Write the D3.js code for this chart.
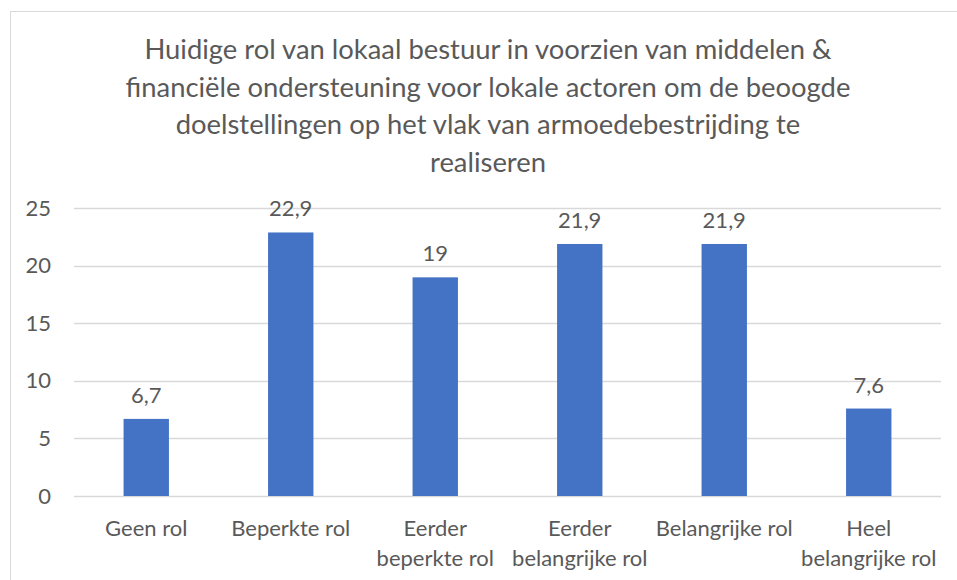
<!DOCTYPE html>
<html lang="en">
<head>
<meta charset="utf-8">
<title>Rol lokaal bestuur</title>
<script src="https://d3js.org/d3.v7.min.js"></script>
<style>
  body { margin: 0; background: #fff; }
  text { font-family: Lato, "Noto Sans", sans-serif; fill: #595959; }
</style>
</head>
<body>
<div id="chart"></div>
<script>

// data
var categories = [
  ["Geen rol"],
  ["Beperkte rol"],
  ["Eerder", "beperkte rol"],
  ["Eerder", "belangrijke rol"],
  ["Belangrijke rol"],
  ["Heel", "belangrijke rol"]
];
var values = [6.7, 22.9, 19, 21.9, 21.9, 7.6];
var yTicks = [0, 5, 10, 15, 20, 25];
var titleLines = [
  "Huidige rol van lokaal bestuur in voorzien van middelen &",
  "financiële ondersteuning voor lokale actoren om de beoogde",
  "doelstellingen op het vlak van armoedebestrijding te",
  "realiseren"
];

var width = 957, height = 580;

var svg = d3.select("#chart")
  .append("svg")
  .attr("width", width)
  .attr("height", height);

// chart frame
svg.append("rect")
  .attr("x", 10.5).attr("y", 11.5)
  .attr("width", 960).attr("height", 600)
  .attr("fill", "none")
  .attr("stroke", "#d9d9d9");

// title
svg.append("g")
  .selectAll("text")
  .data(titleLines)
  .enter()
  .append("text")
    .attr("x", 488)
    .attr("y", function (d, i) { return 59 + i * 37.5; })
    .attr("text-anchor", "middle")
    .style("font-size", "27.4px")
    .text(function (d) { return d; });

var x = d3.scaleBand()
  .domain(d3.range(categories.length))
  .range([74, 941])
  .paddingInner(0.686)
  .paddingOuter(0.343);

var y = d3.scaleLinear()
  .domain([0, 25])
  .range([496, 208.3]);

// gridlines
svg.append("g")
  .selectAll("line")
  .data(yTicks)
  .enter()
  .append("line")
    .attr("x1", 74).attr("x2", 941)
    .attr("y1", function (d) { return Math.round(y(d)) + 0.5; })
    .attr("y2", function (d) { return Math.round(y(d)) + 0.5; })
    .attr("stroke", "#d9d9d9")
    .attr("stroke-width", 1.3);

// y axis labels
var yAxis = svg.append("g")
  .attr("transform", "translate(74,0)")
  .call(d3.axisLeft(y).tickValues(yTicks).tickSize(0).tickPadding(23));
yAxis.select(".domain").remove();
yAxis.selectAll("text")
  .style("font-size", "22px")
  .attr("fill", "#595959");

// bars
svg.append("g")
  .selectAll("rect")
  .data(values)
  .enter()
  .append("rect")
    .attr("x", function (d, i) { return x(i); })
    .attr("y", function (d) { return y(d); })
    .attr("width", x.bandwidth())
    .attr("height", function (d) { return y(0) - y(d); })
    .attr("fill", "#4472C4");

// value labels
svg.append("g")
  .selectAll("text")
  .data(values)
  .enter()
  .append("text")
    .attr("x", function (d, i) { return x(i) + x.bandwidth() / 2; })
    .attr("y", function (d) { return y(d) - 16; })
    .attr("text-anchor", "middle")
    .style("font-size", "22px")
    .text(function (d) { return String(d).replace(".", ","); });

// category labels
var cat = svg.append("g")
  .selectAll("text")
  .data(categories)
  .enter()
  .append("text")
    .attr("text-anchor", "middle")
    .style("font-size", "22px")
    .attr("transform", function (d, i) {
      return "translate(" + (x(i) + x.bandwidth() / 2) + ",536)";
    });
cat.selectAll("tspan")
  .data(function (d) { return d; })
  .enter()
  .append("tspan")
    .attr("x", 0)
    .attr("y", function (d, i) { return i * 30; })
    .text(function (d) { return d; });

</script>
</body>
</html>
